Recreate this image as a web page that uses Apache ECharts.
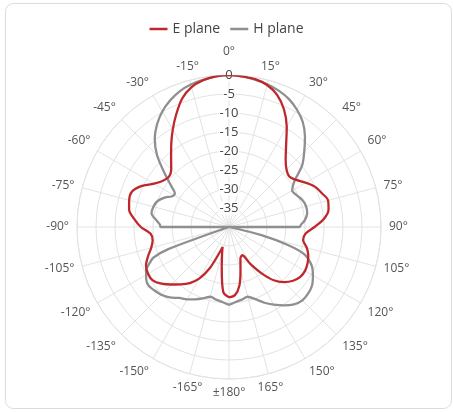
<!DOCTYPE html>
<html>
<head>
<meta charset="utf-8">
<script src="https://cdn.jsdelivr.net/npm/echarts@6/dist/echarts.min.js"></script>
<style>
html,body{margin:0;padding:0;background:#fff;}
#chart{width:453px;height:412px;}
</style>
</head>
<body>
<div id="chart"></div>
<script>
// ---- data (angles in degrees, values in dB) ----
const seriesNames = ['E plane', 'H plane'];

const eAngles = [-180,-175,-170,-165,-162,-160,-155,-150,-145,-140,-135,-130,-125,-120,-115,-110,-105,-100,-95,-90,-85,-80,-75,-70,-65,-60,-55,-50,-45,-40,-35,-30,-25,-20,-15,-10,-5,0,5,10,15,20,25,30,35,40,45,50,55,60,65,70,75,80,85,90,95,100,105,110,115,120,125,130,135,140,145,150,155,160,165,170,175,180];
const eValues = [-21.5,-22.8,-29.0,-33.0,-34.5,-33.0,-28.0,-24.3,-22.0,-20.3,-18.6,-16.8,-15.5,-15.4,-15.9,-17.3,-18.8,-19.6,-19.3,-16.8,-14.9,-13.3,-12.8,-12.8,-14.5,-17.2,-18.8,-19.4,-18.5,-16.3,-13.5,-10.4,-7.2,-4.0,-1.9,-0.8,-0.2,0,-0.2,-0.5,-1.3,-3.0,-5.8,-9.6,-13.8,-16.8,-18.6,-19.3,-18.4,-16.7,-15.0,-14.0,-13.0,-13.4,-14.9,-17.5,-19.8,-20.2,-18.8,-17.8,-17.2,-16.9,-17.1,-18.0,-19.5,-21.7,-25.2,-28.8,-31.8,-31.2,-28.3,-24.3,-22.0,-21.5];

const hAngles = [-180,-175,-170,-165,-160,-155,-150,-145,-140,-135,-130,-126,-122,-118,-114,-112,-110,-105,-95,-90,-88,-85,-80,-75,-70,-65,-62,-58,-55,-50,-45,-40,-35,-30,-25,-20,-15,-10,-5,0,5,10,15,20,25,30,35,40,45,50,55,60,65,70,75,80,85,88,90,95,100,104,107,110,115,120,125,130,135,140,145,150,155,160,165,170,175,180];
const hValues = [-19.5,-20.2,-20.6,-21.0,-20.0,-19.0,-18.0,-17.2,-15.8,-14.8,-14.2,-13.8,-14.3,-15.3,-17.3,-18.6,-23.0,-40,-40,-22.0,-21.8,-20.9,-19.3,-19.4,-20.0,-21.5,-22.9,-23.2,-21.6,-17.8,-13.2,-9.6,-7.0,-4.9,-3.3,-2.0,-1.2,-0.7,-0.2,0,-0.2,-0.6,-1.1,-1.8,-2.8,-4.3,-6.2,-8.9,-12.0,-14.9,-19.0,-20.8,-20.3,-19.4,-19.0,-19.1,-20.0,-21.0,-21.5,-40,-40,-31.2,-23.8,-18.8,-16.0,-14.5,-13.3,-12.8,-12.7,-13.4,-14.8,-16.4,-18.0,-19.8,-21.0,-20.6,-20.2,-19.5];

// axis ticks
const radiusMin = -40, radiusMax = 0, radiusStep = 5;
const angleStep = 15;

const colors = ['#c0272d', '#8f8f8f'];

// ---- build ----
function toPolar(angles, values) {
  return angles.map((a, i) => [values[i], (a + 360) % 360]);
}
function angleLabel(v) {
  if (v === 180) return '±180°';
  if (v === 0) return '{top|0°}';
  return (v > 180 ? v - 360 : v) + '°';
}

const chart = echarts.init(document.getElementById('chart'), null, {renderer: 'canvas'});
const FONT = '"Open Sans", sans-serif';
chart.setOption({
  animation: false,
  backgroundColor: '#fff',
  textStyle: {fontFamily: FONT},
  graphic: [{
    type: 'rect', silent: true, z: -10,
    shape: {x: 5.5, y: 3.5, width: 446, height: 405, r: 8},
    style: {fill: 'none', stroke: '#dcdcdc', lineWidth: 1}
  }],
  legend: {
    top: 17, left: 'center',
    icon: 'rect', itemWidth: 18, itemHeight: 2.5, itemGap: 10,
    textStyle: {fontFamily: FONT, fontSize: 14, color: '#444'},
    data: seriesNames
  },
  polar: {center: [229, 227], radius: 152},
  angleAxis: {
    type: 'value', min: 0, max: 360, interval: angleStep,
    startAngle: 90, clockwise: true,
    axisLine: {show: true, lineStyle: {color: '#e3e3e3', width: 1}},
    axisTick: {show: false},
    splitLine: {show: true, lineStyle: {color: '#e3e3e3', width: 1}},
    axisLabel: {
      margin: 8, color: '#555', fontSize: 12, fontFamily: FONT,
      formatter: angleLabel,
      rich: {top: {fontSize: 12, color: '#555', fontFamily: FONT, padding: [0, 0, 9, 0]}}
    }
  },
  radiusAxis: {
    type: 'value', min: radiusMin, max: radiusMax, interval: radiusStep,
    axisLine: {show: false},
    axisTick: {show: false},
    splitLine: {show: true, lineStyle: {color: '#e3e3e3', width: 1}},
    axisLabel: {
      showMinLabel: false, margin: 0, align: 'center', verticalAlign: 'middle',
      color: '#444', fontSize: 13, fontFamily: FONT,
      backgroundColor: 'rgba(255,255,255,0.85)', padding: [0, 1]
    },
    z: 3
  },
  series: [
    {name: seriesNames[0], type: 'line', coordinateSystem: 'polar', showSymbol: false, symbol: 'none',
     smooth: 0.3,
     lineStyle: {color: colors[0], width: 2.3}, itemStyle: {color: colors[0]}, z: 4,
     data: toPolar(eAngles, eValues)},
    {name: seriesNames[1], type: 'line', coordinateSystem: 'polar', showSymbol: false, symbol: 'none',
     smooth: 0.3,
     lineStyle: {color: colors[1], width: 2.3}, itemStyle: {color: colors[1]}, z: 3,
     data: toPolar(hAngles, hValues)}
  ]
});
</script>
</body>
</html>
